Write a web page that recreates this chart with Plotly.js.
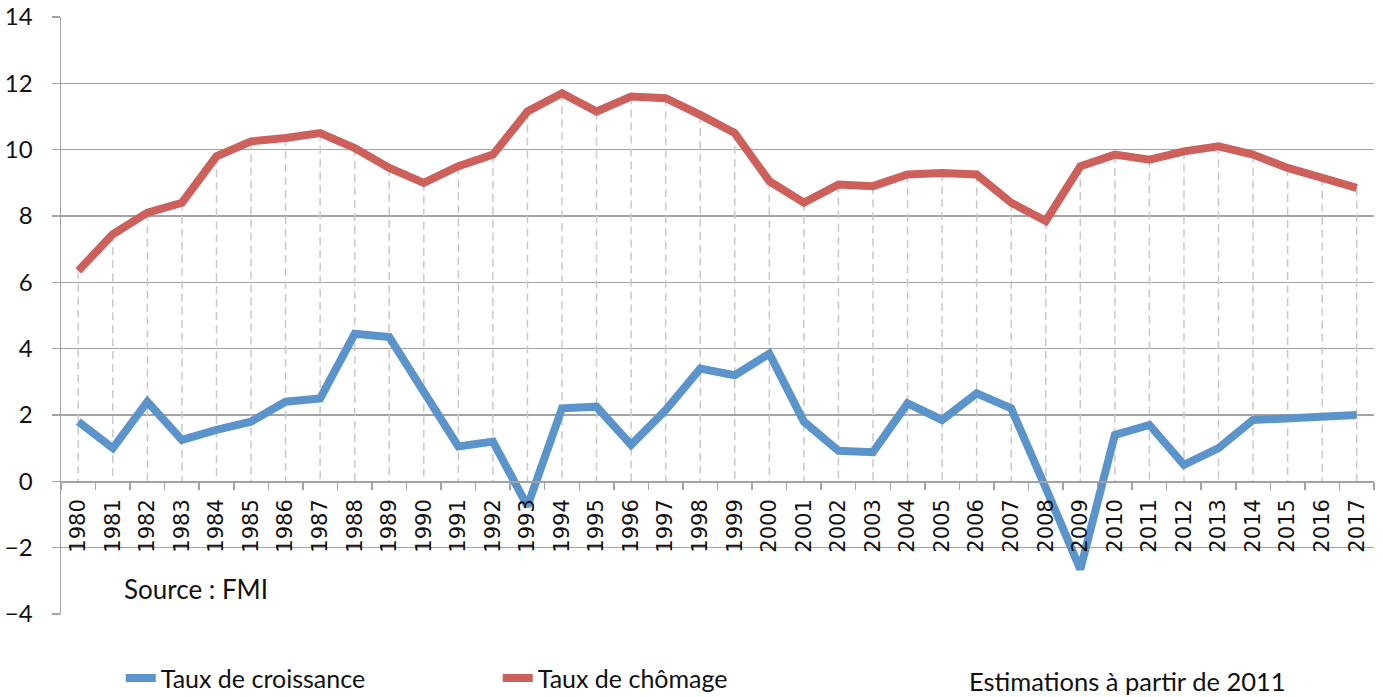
<!DOCTYPE html>
<html>
<head>
<meta charset="utf-8">
<script src="https://cdn.plot.ly/plotly-3.0.1.min.js"></script>
<style>html,body{margin:0;padding:0;background:#fff}#chart{width:1383px;height:697px}</style>
</head>
<body>
<div id="chart"></div>
<script>
const years = ["1980","1981","1982","1983","1984","1985","1986","1987","1988","1989",
  "1990","1991","1992","1993","1994","1995","1996","1997","1998","1999",
  "2000","2001","2002","2003","2004","2005","2006","2007","2008","2009",
  "2010","2011","2012","2013","2014","2015","2016","2017"];
const croissance = [1.8, 1.0, 2.4, 1.25, 1.55, 1.8, 2.4, 2.5, 4.45, 4.35,
  2.7, 1.05, 1.2, -0.75, 2.2, 2.25, 1.1, 2.15, 3.4, 3.2,
  3.85, 1.8, 0.92, 0.88, 2.35, 1.85, 2.65, 2.2, -0.2, -2.65,
  1.4, 1.7, 0.5, 1.0, 1.85, 1.9, 1.95, 2.0];
const chomage = [6.35, 7.45, 8.1, 8.4, 9.8, 10.25, 10.35, 10.5, 10.05, 9.45,
  9.0, 9.5, 9.85, 11.15, 11.7, 11.15, 11.6, 11.55, 11.05, 10.5,
  9.05, 8.4, 8.95, 8.9, 9.25, 9.3, 9.25, 8.4, 7.85, 9.5,
  9.85, 9.7, 9.95, 10.1, 9.85, 9.45, 9.15, 8.85];
const seriesNames = ["Taux de croissance", "Taux de chômage"];
const yTicks = [-4, -2, 0, 2, 4, 6, 8, 10, 12, 14];

// drop lines from the unemployment series down to zero
const dropX = [], dropY = [];
years.forEach((y, i) => { dropX.push(y, y, null); dropY.push(chomage[i], 0, null); });

const grid = '#a3a3a3';
const traces = [
  {x: dropX, y: dropY, mode: 'lines', showlegend: false, hoverinfo: 'skip',
   line: {color: '#c9c9c9', width: 1.5, dash: '8px,5px'}},
  {x: years, y: croissance, name: seriesNames[0], mode: 'lines',
   line: {color: '#5b93cb', width: 8, shape: 'linear'}},
  {x: years, y: chomage, name: seriesNames[1], mode: 'lines',
   line: {color: '#cd605a', width: 8, shape: 'linear'}}
];

const layout = {
  width: 1383, height: 697,
  margin: {l: 61, r: 9, t: 17, b: 83, autoexpand: false},
  paper_bgcolor: '#fff', plot_bgcolor: '#fff',
  showlegend: true,
  hovermode: false,
  xaxis: {
    type: 'category', range: [-0.5, 37.5], fixedrange: true,
    anchor: 'free', position: 4/18,
    showline: true, linecolor: grid, linewidth: 1.5,
    showgrid: false, zeroline: false,
    ticks: 'outside', tickson: 'boundaries', ticklen: 7, tickcolor: grid, tickwidth: 1.5,
    tickangle: -90, ticklabelstandoff: 8,
    tickfont: {family: 'DejaVu Sans', size: 21, color: '#111'}
  },
  yaxis: {
    range: [-4, 14], tickvals: yTicks, fixedrange: true,
    showline: true, linecolor: grid, linewidth: 1.5,
    showgrid: true, gridcolor: grid, gridwidth: 1.5, zeroline: false,
    ticks: 'outside', ticklen: 8, tickcolor: grid, tickwidth: 1.5,
    ticklabelstandoff: 14,
    tickfont: {family: 'Lato', size: 24, color: '#111'}
  },
  legend: {
    orientation: 'h', x: 0.0455, y: 0.027, xref: 'paper', yref: 'container',
    xanchor: 'left', yanchor: 'middle',
    entrywidth: 332, entrywidthmode: 'pixels',
    font: {family: 'Lato', size: 25, color: '#111'},
    bgcolor: 'rgba(0,0,0,0)'
  },
  annotations: [
    {text: 'Source : FMI', xref: 'paper', yref: 'paper', x: 0.0465, y: 0.042,
     xanchor: 'left', yanchor: 'middle', showarrow: false,
     font: {family: 'Lato', size: 26, color: '#111'}},
    {text: 'Estimations à partir de 2011', xref: 'paper', yref: 'paper', x: 0.6898, y: -0.112,
     xanchor: 'left', yanchor: 'middle', showarrow: false,
     font: {family: 'Lato', size: 25.5, color: '#111'}}
  ]
};

Plotly.newPlot('chart', traces, layout, {staticPlot: true, displayModeBar: false});
</script>
</body>
</html>
